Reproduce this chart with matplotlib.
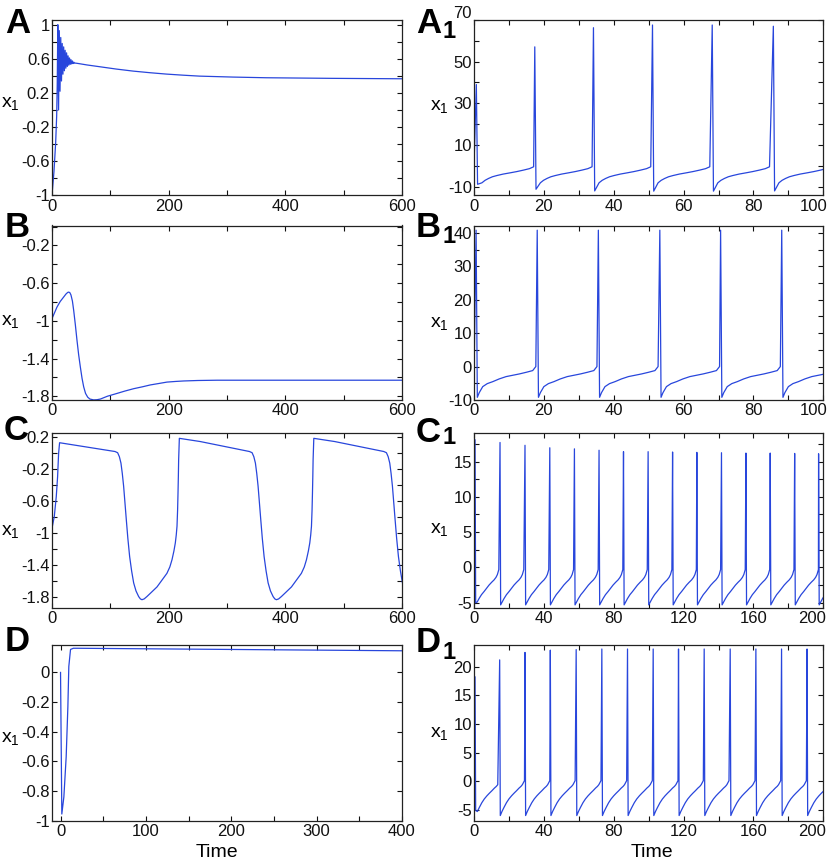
import matplotlib
matplotlib.use('Agg')
import matplotlib.pyplot as plt
from matplotlib.transforms import ScaledTranslation

plt.rcParams['font.family'] = ['Liberation Sans', 'DejaVu Sans']
plt.rcParams['axes.unicode_minus'] = False
plt.rcParams['mathtext.fontset'] = 'custom'
plt.rcParams['mathtext.rm'] = 'Liberation Sans'

LINE = '#2846dc'
W, H = 828, 861

# ---------------- Panel A (0-600) ----------------
a_rise_t = [0, 3.4, 6.3, 8.0, 9.0]
a_rise_v = [-1.0, -0.72, -0.38, -0.07, 0.31]
a_osc_peak_t = [10, 12.5, 15, 17.5, 20, 22.5, 25, 27.5, 30, 32.5, 35, 37.5, 40]
a_osc_peak_v = [1.0, 0.93, 0.85, 0.78, 0.74, 0.70, 0.67, 0.635, 0.61, 0.59, 0.575, 0.56, 0.55]
a_osc_trough_t = [11.25, 13.75, 16.25, 18.75, 21.25, 23.75, 26.25, 28.75, 31.25, 33.75, 36.25, 38.75]
a_osc_trough_v = [0.0, 0.22, 0.34, 0.42, 0.46, 0.49, 0.51, 0.525, 0.535, 0.54, 0.545, 0.548]
a_decay_t = [45, 60, 82, 110, 139, 168, 196, 225, 253, 310, 367, 480, 600]
a_decay_v = [0.545, 0.528, 0.507, 0.48, 0.456, 0.437, 0.421, 0.408, 0.397, 0.386, 0.378, 0.371, 0.366]

# ---------------- Panel B (0-600) ----------------
b_t = [0, 0, 8.6, 14, 20, 24, 27, 28.6, 30.5, 32.5, 35, 37.2, 40, 42.9, 45.7, 48.6,
       51.5, 54.3, 57.5, 61.2, 65, 71.4, 77, 82.9, 95, 111.5, 125, 140, 155, 168.6,
       183, 197, 212, 225.8, 250, 283, 320, 369, 600]
b_v = [0.0, -0.976, -0.853, -0.795, -0.747, -0.715, -0.698, -0.695, -0.70, -0.725,
       -0.79, -0.89, -1.04, -1.21, -1.36, -1.49, -1.61, -1.70, -1.77, -1.81, -1.83,
       -1.839, -1.837, -1.83, -1.80, -1.77, -1.745, -1.72, -1.70, -1.68, -1.665, -1.65,
       -1.643, -1.638, -1.633, -1.63, -1.63, -1.63, -1.63]

# ---------------- Panel C (0-600) ----------------
c_start_t = [0, 3.9, 7.3, 9.6, 11.3, 13]
c_start_v = [-0.945, -0.80, -0.55, -0.30, -0.01, 0.125]
c_plateau_end_t = [112.5, 343, 573.3]
c_cycle_dt = [-4.5, 0, 3, 5.7, 8, 10.3, 12.5, 14.9, 17.5, 20.6, 24, 27.5, 31.5, 36,
              39, 41.7, 45.5, 50.3, 57.5, 67.5, 77.5, 84.5, 89.5, 93.2, 96.5, 98.9,
              100.5, 101.8, 102.8, 103.5, 104.1, 104.6, 105.8, 141.5]
c_cycle_v = [0.015, 0.0, -0.05, -0.13, -0.26, -0.42, -0.62, -0.84, -1.07, -1.30, -1.48,
             -1.63, -1.73, -1.80, -1.83, -1.84, -1.83, -1.80, -1.75, -1.68, -1.58, -1.51,
             -1.43, -1.34, -1.23, -1.13, -1.03, -0.92, -0.72, -0.51, -0.30, -0.09, 0.18,
             0.14]

# ---------------- Panel D (-10-400) ----------------
d_t = [0, 1.5, 3.9, 6.6, 8.6, 9.7, 11.7, 15, 20, 400]
d_v = [0.0, -0.955, -0.84, -0.57, -0.23, 0.04, 0.155, 0.163, 0.163, 0.146]

# ---------------- Spiking panels ----------------
a1_spike_t = [0.67, 17.4, 34.2, 51.1, 68.2, 85.7]
a1_peak_v = [39.0, 57.1, 66.3, 67.6, 67.6, 67.0]
a1_trough_v = [-8.9, -11.3, -12.1, -12.2, -12.2, -12.1]
a1_rec_dt = [1.6, 2.5, 3.5, 4.6, 5.9, 7.7, 9.7, 11.6, 13.5, 15.2, 16.4]
a1_rec_v = [-8.2, -7.0, -6.1, -5.3, -4.7, -4.0, -3.4, -2.8, -2.1, -1.4, -0.5]

b1_spike_t = [0.6, 18.1, 35.6, 53.2, 70.6, 88.1]
b1_peak_v = [40.8, 40.8, 40.8, 40.8, 40.8, 40.8]
b1_trough_v = [-9.2, -9.2, -9.2, -9.2, -9.2, -9.2]
b1_rec_dt = [0.9, 1.9, 3.2, 4.8, 6.6, 8.6, 10.5, 12.4, 14.4, 16.2, 17.1]
b1_rec_v = [-7.8, -6.0, -5.1, -4.5, -3.7, -3.0, -2.6, -2.2, -1.7, -1.2, 0.0]

c1_spike_t = [0.6, 14.9, 29.2, 43.4, 57.5, 71.6, 85.6, 99.7, 113.7, 127.6, 141.7,
              155.7, 169.6, 183.6, 197.3]
c1_peak_v = [18.1, 17.7, 17.3, 16.95, 16.8, 16.6, 16.4, 16.4, 16.35, 16.3, 16.25,
             16.2, 16.2, 16.15, 16.1]
c1_trough_v = [-5.0, -5.3, -5.3, -5.3, -5.3, -5.3, -5.3, -5.3, -5.3, -5.3, -5.3,
               -5.3, -5.3, -5.3, -5.3]
c1_rec_dt = [1.2, 2.3, 3.7, 5.2, 6.6, 8.0, 9.5, 10.9, 12.0, 12.8, 13.6]
c1_rec_v = [-4.9, -4.4, -3.85, -3.4, -2.95, -2.5, -2.1, -1.76, -1.4, -1.0, -0.3]

d1_spike_t = [0.6, 14.7, 29.2, 43.7, 58.5, 73.2, 87.9, 102.6, 117.1, 131.8, 146.7,
              161.4, 176.1, 190.7]
d1_peak_v = [18.25, 21.2, 22.5, 22.9, 23.0, 23.1, 23.1, 23.1, 23.1, 23.1, 23.1,
             23.1, 23.1, 23.1]
d1_trough_v = [-5.1, -6.0, -6.0, -6.0, -6.0, -6.0, -6.0, -6.0, -6.0, -6.0, -6.0,
               -6.0, -6.0, -6.0]
d1_rec_dt = [1.3, 2.5, 3.9, 5.3, 6.8, 8.2, 9.7, 11.1, 12.2, 13.0, 14.2]
d1_rec_v = [-5.3, -4.56, -3.75, -3.1, -2.55, -2.1, -1.65, -1.2, -0.9, -0.6, 0.1]

# ---------------- Tick definitions ----------------
x600_ticks = [0, 100, 200, 300, 400, 500, 600]
x600_labels = ['0', '', '200', '', '400', '', '600']
x100_ticks = [0, 10, 20, 30, 40, 50, 60, 70, 80, 90, 100]
x100_labels = ['0', '', '20', '', '40', '', '60', '', '80', '', '100']
x200_ticks = [0, 20, 40, 60, 80, 100, 120, 140, 160, 180, 200]
x200_labels = ['0', '', '40', '', '80', '', '120', '', '160', '', '200']
x400_ticks = [0, 50, 100, 150, 200, 250, 300, 350, 400]
x400_labels = ['0', '', '100', '', '200', '', '300', '', '400']

ya_ticks = [-1, -0.8, -0.6, -0.4, -0.2, 0, 0.2, 0.4, 0.6, 0.8, 1]
ya_labels = ['-1', '', '-0.6', '', '-0.2', '', '0.2', '', '0.6', '', '1']
ya1_ticks = [-10, 0, 10, 20, 30, 40, 50, 60, 70]
ya1_labels = ['-10', '', '10', '', '30', '', '50', '', '70']
yb_ticks = [-1.8, -1.6, -1.4, -1.2, -1.0, -0.8, -0.6, -0.4, -0.2, 0]
yb_labels = ['-1.8', '', '-1.4', '', '-1', '', '-0.6', '', '-0.2', '']
yb1_ticks = [-10, -5, 0, 5, 10, 15, 20, 25, 30, 35, 40]
yb1_labels = ['-10', '', '0', '', '10', '', '20', '', '30', '', '40']
yc_ticks = [-1.8, -1.6, -1.4, -1.2, -1.0, -0.8, -0.6, -0.4, -0.2, 0, 0.2]
yc_labels = ['-1.8', '', '-1.4', '', '-1', '', '-0.6', '', '-0.2', '', '0.2']
yc1_ticks = [-5, -2.5, 0, 2.5, 5, 7.5, 10, 12.5, 15, 17.5]
yc1_labels = ['-5', '', '0', '', '5', '', '10', '', '15', '']
yd_ticks = [-1, -0.8, -0.6, -0.4, -0.2, 0]
yd_labels = ['-1', '-0.8', '-0.6', '-0.4', '-0.2', '0']
yd1_ticks = [-5, 0, 5, 10, 15, 20]
yd1_labels = ['-5', '0', '5', '10', '15', '20']


def spike_series(v0, spike_t, peak_v, trough_v, rec_dt, rec_v, fall=0.35, margin=0.1):
    ts, vs = [0.0], [v0]
    for i, s in enumerate(spike_t):
        ts += [s, s + fall]
        vs += [peak_v[i], trough_v[i]]
        nxt = spike_t[i + 1] if i + 1 < len(spike_t) else 1e9
        for dt, v in zip(rec_dt, rec_v):
            if s + dt < nxt - margin:
                ts.append(s + dt)
                vs.append(v)
    return ts, vs


def osc_series():
    pts = sorted(list(zip(a_osc_peak_t, a_osc_peak_v)) + list(zip(a_osc_trough_t, a_osc_trough_v)))
    t = list(a_rise_t) + [p[0] for p in pts] + list(a_decay_t)
    v = list(a_rise_v) + [p[1] for p in pts] + list(a_decay_v)
    return t, v


def cycle_series():
    t, v = list(c_start_t), list(c_start_v)
    for te in c_plateau_end_t:
        t += [te + dt for dt in c_cycle_dt]
        v += list(c_cycle_v)
    return t, v


fig = plt.figure(figsize=(W / 100, H / 100), dpi=100)

L_LEFT, L_W = 52 / W, 350 / W
R_LEFT, R_W = 474 / W, 349.3 / W
rows = [(20, 195.3), (225.5, 400), (433.3, 607.7), (645, 820.7)]


def make_ax(col, row):
    top, bot = rows[row]
    l, w = (L_LEFT, L_W) if col == 0 else (R_LEFT, R_W)
    ax = fig.add_axes([l, 1 - bot / H, w, (bot - top) / H])
    for sp in ax.spines.values():
        sp.set_color('#222222')
        sp.set_linewidth(0.9)
    ax.tick_params(direction='in', top=True, right=True, length=3.5, width=0.8,
                   labelsize=12, colors='#111111')
    ax.tick_params(axis='x', pad=2.5)
    ax.tick_params(axis='y', pad=1.5)
    return ax


def finish(ax, xt, xl, yt, yl, xlim, ylim, last_x_shift=0.0):
    ax.set_xticks(xt)
    ax.set_xticklabels(xl)
    ax.set_yticks(yt)
    ax.set_yticklabels(yl)
    ax.set_xlim(*xlim)
    ax.set_ylim(*ylim)
    if last_x_shift:
        lab = ax.get_xticklabels()[-1]
        lab.set_transform(lab.get_transform() +
                          ScaledTranslation(last_x_shift / 100, 0, fig.dpi_scale_trans))


# A
ax = make_ax(0, 0)
t, v = osc_series()
ax.plot(t, v, color=LINE, lw=0.9)
finish(ax, x600_ticks, x600_labels, ya_ticks, ya_labels, (0, 600), (-1, 1.055))

# A1
ax = make_ax(1, 0)
t, v = spike_series(0.0, a1_spike_t, a1_peak_v, a1_trough_v, a1_rec_dt, a1_rec_v)
ax.plot(t, v, color=LINE, lw=0.9)
finish(ax, x100_ticks, x100_labels, ya1_ticks, ya1_labels, (0, 100), (-14.2, 70),
       last_x_shift=-10)
lab70 = ax.get_yticklabels()[-1]
lab70.set_transform(lab70.get_transform() + ScaledTranslation(0, 8 / 100, fig.dpi_scale_trans))

# B
ax = make_ax(0, 1)
ax.plot(b_t, b_v, color=LINE, lw=0.9)
finish(ax, x600_ticks, x600_labels, yb_ticks, yb_labels, (0, 600), (-1.84, 0.012))

# B1
ax = make_ax(1, 1)
t, v = spike_series(-3.0, b1_spike_t, b1_peak_v, b1_trough_v, b1_rec_dt, b1_rec_v)
ax.plot(t, v, color=LINE, lw=0.9)
finish(ax, x100_ticks, x100_labels, yb1_ticks, yb1_labels, (0, 100), (-10, 42.2),
       last_x_shift=-10)

# C
ax = make_ax(0, 2)
t, v = cycle_series()
ax.plot(t, v, color=LINE, lw=0.9)
finish(ax, x600_ticks, x600_labels, yc_ticks, yc_labels, (0, 600), (-1.94, 0.243))

# C1
ax = make_ax(1, 2)
t, v = spike_series(-4.5, c1_spike_t, c1_peak_v, c1_trough_v, c1_rec_dt, c1_rec_v)
ax.plot(t, v, color=LINE, lw=0.9)
finish(ax, x200_ticks, x200_labels, yc1_ticks, yc1_labels, (0, 200), (-5.7, 19.0),
       last_x_shift=-11)

# D
ax = make_ax(0, 3)
ax.plot(d_t, d_v, color=LINE, lw=0.9)
finish(ax, x400_ticks, x400_labels, yd_ticks, yd_labels, (-10, 400), (-1, 0.185))

# D1
ax = make_ax(1, 3)
t, v = spike_series(-4.5, d1_spike_t, d1_peak_v, d1_trough_v, d1_rec_dt, d1_rec_v)
ax.plot(t, v, color=LINE, lw=0.9)
finish(ax, x200_ticks, x200_labels, yd1_ticks, yd1_labels, (0, 200), (-6.9, 23.8),
       last_x_shift=-11)

# Panel letters
letters = [('A', '', 5, 33.3, None), ('A', '1', 416, 33.3, 37.7),
           ('B', '', 5, 236.7, None), ('B', '1', 416, 237, 243),
           ('C', '', 4, 440.5, None), ('C', '1', 416, 441.7, 443.5),
           ('D', '', 5, 651, None), ('D', '1', 416, 652, 659)]
for big, sub, x0, base, sbase in letters:
    fig.text(x0 / W, 1 - base / H, big, fontsize=25, fontweight='bold',
             ha='left', va='baseline')
    if sub:
        fig.text((x0 + 27) / W, 1 - sbase / H, sub, fontsize=17, fontweight='bold',
                 ha='left', va='baseline')

# y labels
ylab = [(1.5, 107.3), (430, 110), (1.5, 325), (430, 326.7),
        (1.5, 535), (430, 533.3), (1.5, 741.7), (430, 736.7)]
for x0, base in ylab:
    fig.text(x0 / W, 1 - base / H, r'$\mathregular{x_1}$', fontsize=14,
             ha='left', va='baseline')

# x labels
fig.text(217 / W, 1 - 856.7 / H, 'Time', fontsize=14, ha='center', va='baseline')
fig.text(652 / W, 1 - 856.7 / H, 'Time', fontsize=14, ha='center', va='baseline')

fig.savefig('out.png', dpi=100)
